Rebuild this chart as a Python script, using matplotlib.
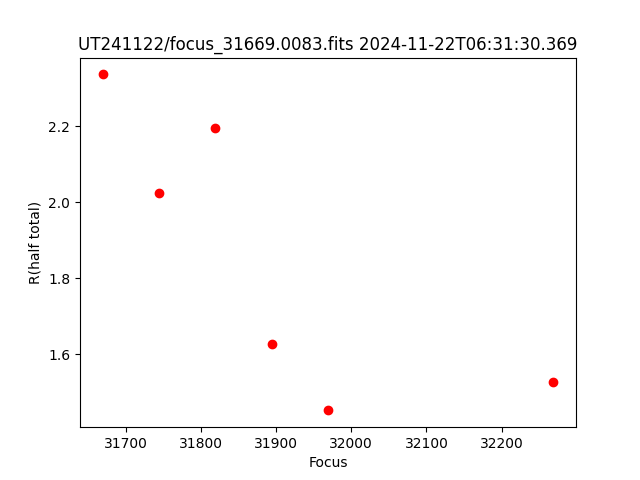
import matplotlib
matplotlib.use("Agg")
import matplotlib.pyplot as plt

focus = [31669, 31744, 31819, 31894, 31969, 32269]
r_half = [2.336, 2.024, 2.195, 1.628, 1.453, 1.528]
title = "UT241122/focus_31669.0083.fits 2024-11-22T06:31:30.369"

fig, ax = plt.subplots(figsize=(6.4, 4.8), dpi=100)
ax.plot(focus, r_half, "ro")
ax.set_xlabel("Focus")
ax.set_ylabel("R(half total)")
ax.set_title(title)
fig.savefig("out.png")
